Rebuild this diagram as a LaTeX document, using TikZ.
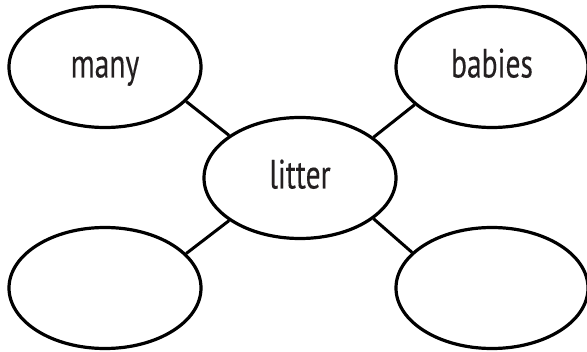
\documentclass[tikz,border=0pt]{standalone}
\usepackage{fontspec}
\setmainfont[FakeStretch=0.72,FakeBold=0.2]{PT Sans}
\usetikzlibrary{shapes.geometric}
\definecolor{inkgray}{HTML}{231F20}
\begin{document}
\begin{tikzpicture}[x=1pt,y=-1pt,
  bubble/.style={ellipse,draw=black,line width=3.2pt,minimum width=192pt,minimum height=121pt,
    inner sep=0pt,text=inkgray,font=\fontsize{41}{43}\selectfont,text height=21pt,text depth=0pt},
  link/.style={draw=black,line width=3pt}]
\useasboundingbox[fill=white] (0,0) rectangle (587,352);
\node[bubble] (many) at (105,67) {many};
\node[bubble] (babies) at (492,67) {babies};
\node[bubble] (litter) at (300,178) {litter};
\node[bubble] (bl) at (105,288) {};
\node[bubble] (br) at (492,288) {};
\draw[link] (many.-23.6) -- (litter.149.3);
\draw[link] (babies.-154.4) -- (litter.29.7);
\draw[link] (bl.23.6) -- (litter.-149);
\draw[link] (br.156) -- (litter.-29.7);
\end{tikzpicture}
\end{document}
